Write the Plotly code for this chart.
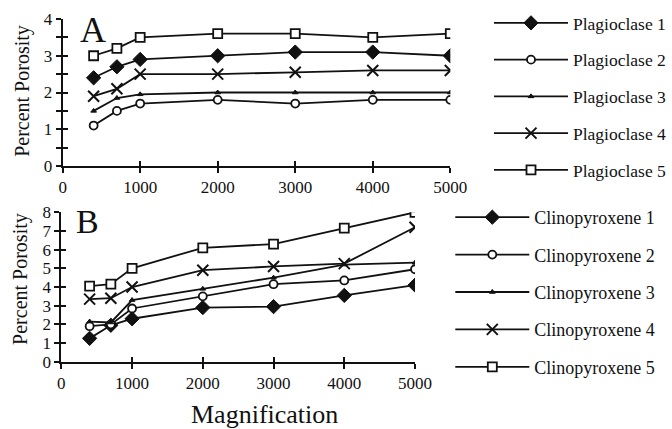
import plotly.graph_objects as go

magnification = [400, 700, 1000, 2000, 3000, 4000, 5000]

plag_names = ["Plagioclase 1", "Plagioclase 2", "Plagioclase 3", "Plagioclase 4", "Plagioclase 5"]
plag1 = [2.4, 2.7, 2.9, 3.0, 3.1, 3.1, 3.0]
plag2 = [1.1, 1.5, 1.7, 1.8, 1.7, 1.8, 1.8]
plag3 = [1.5, 1.85, 1.95, 2.0, 2.0, 2.0, 2.0]
plag4 = [1.9, 2.1, 2.5, 2.5, 2.55, 2.6, 2.6]
plag5 = [3.0, 3.2, 3.5, 3.6, 3.6, 3.5, 3.6]

clino_names = ["Clinopyroxene 1", "Clinopyroxene 2", "Clinopyroxene 3", "Clinopyroxene 4", "Clinopyroxene 5"]
clino1 = [1.25, 1.95, 2.3, 2.9, 2.95, 3.55, 4.1]
clino2 = [1.9, 2.0, 2.85, 3.5, 4.15, 4.35, 4.95]
clino3 = [2.15, 2.1, 3.3, 3.9, 4.5, 5.2, 5.3]
clino4 = [3.35, 3.4, 4.0, 4.9, 5.1, 5.25, 7.2]
clino5 = [4.05, 4.15, 5.0, 6.1, 6.3, 7.15, 8.0]

y_ticks_a = [0, 0.5, 1, 1.5, 2, 2.5, 3, 3.5, 4]
y_labels_a = ["0", "", "1", "", "2", "", "3", "", "4"]
y_ticks_b = [0, 1, 2, 3, 4, 5, 6, 7, 8]
x_ticks = [0, 1000, 2000, 3000, 4000, 5000]

FONT = "Liberation Serif"
BLACK = "#111111"

styles = [
    dict(symbol="diamond", size=11, color=BLACK, line=dict(color=BLACK, width=1)),
    dict(symbol="circle", size=8, color="white", line=dict(color=BLACK, width=1.8)),
    dict(symbol="triangle-up", size=5, color=BLACK, line=dict(color=BLACK, width=1)),
    dict(symbol="x-thin", size=11, color=BLACK, line=dict(color=BLACK, width=2)),
    dict(symbol="square", size=9, color="white", line=dict(color=BLACK, width=1.8)),
]

# the last series of each panel sits on an overlaying pair of axes (same ranges),
# which draws the inner half of the crossing tick marks
fig = go.Figure()
for i, (name, vals) in enumerate(zip(plag_names, [plag1, plag2, plag3, plag4, plag5])):
    fig.add_trace(go.Scatter(
        x=magnification, y=vals, name=name, mode="lines+markers",
        line=dict(color=BLACK, width=1.8), marker=styles[i],
        xaxis="x3" if i == 4 else "x", yaxis="y3" if i == 4 else "y",
        legend="legend", legendgroup="a%d" % i,
    ))
for i, (name, vals) in enumerate(zip(clino_names, [clino1, clino2, clino3, clino4, clino5])):
    fig.add_trace(go.Scatter(
        x=magnification, y=vals, name=name, mode="lines+markers",
        line=dict(color=BLACK, width=1.8), marker=styles[i],
        xaxis="x4" if i == 4 else "x2", yaxis="y4" if i == 4 else "y2",
        legend="legend2", legendgroup="b%d" % i,
    ))

H = 429.0
W = 672.0
xa_dom = [63 / W, 453 / W]
ya_dom = [1 - 166 / H, 1 - 19 / H]
xb_dom = [61.7 / W, 417.5 / W]
yb_dom = [1 - 361.7 / H, 1 - 212.3 / H]

tickfont = dict(family=FONT, size=17, color=BLACK)
common = dict(showgrid=False, zeroline=False, showline=True, linecolor=BLACK, linewidth=2,
              ticks="outside", ticklen=5, tickwidth=1.5, tickcolor=BLACK, tickfont=tickfont,
              automargin=False, fixedrange=True)
overlay = dict(showgrid=False, zeroline=False, showline=False,
               ticks="inside", ticklen=5, tickwidth=1.5, tickcolor=BLACK,
               showticklabels=False, automargin=False, fixedrange=True)


def ann(text, x, y, size, angle=0):
    return dict(text=text, x=x / W, y=1 - y / H, xref="paper", yref="paper",
                xanchor="center", yanchor="middle", textangle=angle, showarrow=False,
                font=dict(family=FONT, size=size, color=BLACK))


fig.update_layout(
    width=672, height=429,
    margin=dict(l=0, r=0, t=0, b=0),
    paper_bgcolor="white", plot_bgcolor="white",
    font=dict(family=FONT, color=BLACK),
    xaxis=dict(domain=xa_dom, anchor="y", range=[0, 5000], tickvals=x_ticks, **common),
    yaxis=dict(domain=ya_dom, anchor="x", range=[0, 4], tickvals=y_ticks_a, ticktext=y_labels_a, **common),
    xaxis2=dict(domain=xb_dom, anchor="y2", range=[0, 5000], tickvals=x_ticks, **common),
    yaxis2=dict(domain=yb_dom, anchor="x2", range=[0, 8], tickvals=y_ticks_b, **common),
    xaxis3=dict(overlaying="x", anchor="y", range=[0, 5000], tickvals=x_ticks, **overlay),
    yaxis3=dict(overlaying="y", anchor="x", range=[0, 4], tickvals=y_ticks_a, **overlay),
    xaxis4=dict(overlaying="x2", anchor="y2", range=[0, 5000], tickvals=x_ticks, **overlay),
    yaxis4=dict(overlaying="y2", anchor="x2", range=[0, 8], tickvals=y_ticks_b, **overlay),
    legend=dict(x=492 / W, y=1 - 5 / H, xanchor="left", yanchor="top",
                font=dict(family=FONT, size=17.5, color=BLACK), bgcolor="rgba(0,0,0,0)",
                tracegroupgap=11, itemwidth=74),
    legend2=dict(x=453 / W, y=1 - 199 / H, xanchor="left", yanchor="top",
                 font=dict(family=FONT, size=18, color=BLACK), bgcolor="rgba(0,0,0,0)",
                 tracegroupgap=11, itemwidth=74),
    annotations=[
        ann("A", 93.5, 30, 36),
        ann("B", 88.5, 221, 34),
        ann("Percent Porosity", 22, 91, 20, -90),
        ann("Percent Porosity", 20, 279, 20, -90),
        ann("Magnification", 266, 414, 26),
    ],
)

fig.write_html("out.html", config={"displayModeBar": False},
               post_script="document.body.style.margin='0px';document.body.style.padding='0px';")
